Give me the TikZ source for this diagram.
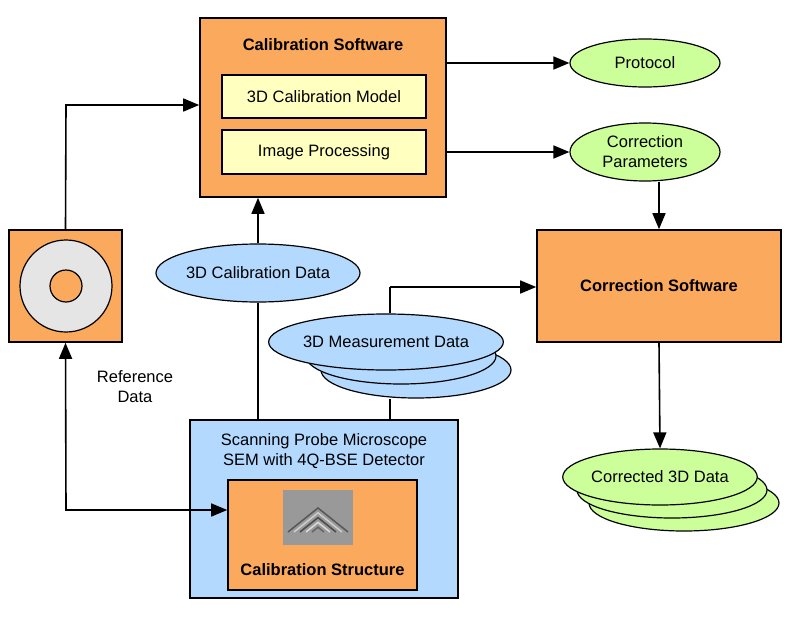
\documentclass[tikz,border=0pt]{standalone}
\usepackage{fontspec}
\setmainfont{Liberation Sans}
\usetikzlibrary{shapes.geometric,arrows.meta}
\definecolor{org}{HTML}{FBA95C}
\definecolor{yel}{HTML}{FFFFC0}
\definecolor{grn}{HTML}{CCFF99}
\definecolor{blu}{HTML}{B3D9FF}
\begin{document}
\begin{tikzpicture}[x=1pt,y=-1pt,
  box/.style={draw=black,line width=1.6pt,inner sep=0pt},
  ell/.style={ellipse,draw=black,line width=1.2pt,inner sep=0pt,align=center,font=\fontsize{16.5}{20}\selectfont},
  arr/.style={line width=1.6pt,-{Triangle[length=16pt,width=13pt]}},
  ln/.style={line width=1.6pt},
  txt/.style={font=\fontsize{16.5}{20}\selectfont,align=center}]
\useasboundingbox (0,0) rectangle (800,618);
% calibration software
\node[box,fill=org,minimum width=246,minimum height=179] (cs) at (323,107.5) {};
\node[txt,font=\bfseries\fontsize{16.5}{20}\selectfont] (cst) at (323,45) {Calibration Software};
\node[box,fill=yel,minimum width=204,minimum height=43,txt] (cm) at (324,96.5) {3D Calibration Model};
\node[box,fill=yel,minimum width=204,minimum height=44,txt] (ip) at (324,152) {Image Processing};
% ellipses right
\node[ell,fill=grn,minimum width=150,minimum height=48] (pr) at (645,63) {Protocol};
\node[ell,fill=grn,minimum width=150,minimum height=58] (cp) at (645,152) {Correction\\Parameters};
% correction software
\node[box,fill=org,minimum width=244,minimum height=112,txt,font=\bfseries\fontsize{16.5}{20}\selectfont] (cor) at (659,286) {Correction Software};
% corrected data stack
\node[ell,fill=grn,minimum width=190,minimum height=56] (cd3) at (684,503) {};
\node[ell,fill=grn,minimum width=190,minimum height=56] (cd2) at (672,490) {};
\node[ell,fill=grn,minimum width=190,minimum height=56] (cd) at (660,477) {Corrected 3D Data};
% disc
\node[box,fill=org,minimum width=113,minimum height=112] (disc) at (65.5,286) {};
\node[circle,draw=black,line width=1.2pt,fill=black!10,minimum size=92,inner sep=0] (dout) at (66,286) {};
\node[circle,draw=black,line width=1.2pt,fill=org,minimum size=32,inner sep=0] (din) at (66,286) {};
\node[txt,anchor=center] (rd) at (135,387) {Reference\\Data};
% calibration data
\node[ell,fill=blu,minimum width=204,minimum height=58] (cald) at (258,273) {3D Calibration Data};
% measurement data stack
\node[ell,fill=blu,minimum width=190,minimum height=56] (md3) at (416,370) {};
\node[ell,fill=blu,minimum width=190,minimum height=56] (md2) at (401,356) {};
\node[ell,fill=blu,minimum width=190,minimum height=56] (md) at (386,342) {3D Measurement Data};
% SPM
\node[box,fill=blu,minimum width=268,minimum height=178] (spm) at (324,509) {};
\node[txt] (spmt) at (324,451) {Scanning Probe Microscope\\SEM with 4Q-BSE Detector};
\node[box,fill=org,minimum width=189,minimum height=110] (str) at (322.5,535) {};
\node[txt,font=\bfseries\fontsize{16.5}{20}\selectfont] (strt) at (322.5,570) {Calibration Structure};
\begin{scope}
\fill[black!40] (283,490) rectangle (353,545);
\foreach \r/\c in {30/65,24/20,18/70,12/15,6/60}{
  \draw[line width=1.5pt,color=black!\c] (318-\r,532) -- (318,532-\r*0.8) -- (318+\r,532);}
\end{scope}
% connectors
\coordinate (k1) at (66,105);
\draw[arr] (disc.north) -- (k1) -- (cs.west |- k1);
\draw[arr] (cs.east |- pr) -- (pr.west);
\draw[arr] (cs.east |- cp) -- (cp.west);
\draw[arr] (cp.south -| cor.north) -- (cor.north);
\draw[arr] (cor.south) -- (cd.north);
\draw[arr] (cald.north) -- (cs.south -| cald.north);
\draw[ln] (spm.north -| cald.south) -- (cald.south);
\coordinate (m1) at (390,420);
\draw[ln] (m1) -- (m1 |- md3.south);
\coordinate (m2) at (390,287);
\draw[ln] (m2 |- md.north) -- (m2);
\draw[arr] (m2) -- (cor.west |- m2);
\coordinate (k2) at (66,510);
\draw[line width=1.6pt,{Triangle[length=16pt,width=13pt]}-{Triangle[length=16pt,width=13pt]}] (disc.south) -- (k2) -- (str.west |- k2);
\end{tikzpicture}
\end{document}
